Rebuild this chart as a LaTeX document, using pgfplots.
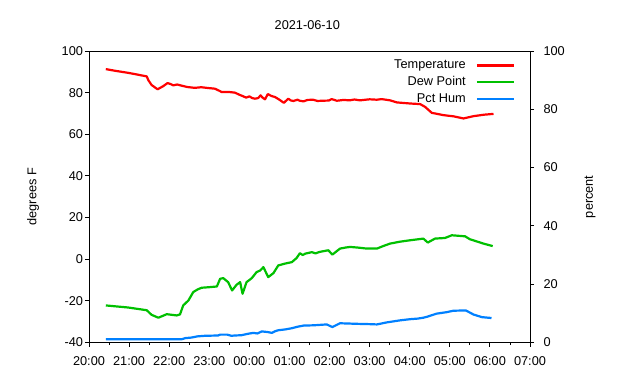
\documentclass[border=0pt]{standalone}
\usepackage{fontspec}
\setmainfont{Liberation Sans}
\usepackage{pgfplots}
\pgfplotsset{compat=1.18}
\definecolor{tred}{HTML}{FF0000}
\definecolor{tgreen}{HTML}{00C000}
\definecolor{tblue}{HTML}{0080FF}
\pgfplotsset{
  common/.style={
    at={(0,0)}, anchor=south west,
    scale only axis, width=441bp, height=291.5bp,
    xmin=0, xmax=11,
    /pgf/number format/assume math mode=true,
    tick align=outside,
    major tick length=4bp, minor tick length=2.5bp,
    every tick/.style={black, line width=0.9bp},
    axis line style={line width=0.9bp},
    every axis plot/.append style={line width=2.2bp, line join=round},
  }
}
\begin{document}
\begin{tikzpicture}[font=\fontsize{12.8}{15.4}\selectfont]
\path[use as bounding box] (-89bp,-37.5bp) rectangle (551bp,342.5bp);
\begin{axis}[common,
  ymin=-40, ymax=100,
  xtick={0,1,...,11},
  xticklabels={20:00,21:00,22:00,23:00,00:00,01:00,02:00,03:00,04:00,05:00,06:00,07:00},
  minor x tick num=1,
  xtick pos=bottom, ytick pos=left,
  ytick={-40,-20,...,100},
  xticklabel style={yshift=-7bp},
  yticklabel style={xshift=1.5bp},
  ylabel={degrees F},
  ylabel style={at={(axis description cs:-0.127,0.5)}, anchor=center},
  title={2021-06-10},
  title style={at={(axis description cs:0.495,1)}, anchor=center, yshift=20bp},
]
\addplot[tred] coordinates {
(0.42,91.3) (0.65,90.5) (0.98,89.5) (1.2,88.7) (1.44,87.8) (1.48,86.0) (1.56,83.7)
(1.71,81.6) (1.85,83.1) (1.96,84.6) (2.05,84.0) (2.1,83.5) (2.2,83.9) (2.3,83.4) (2.45,82.7)
(2.64,82.3) (2.8,82.6) (2.98,82.2) (3.14,81.9) (3.25,80.9) (3.31,80.3) (3.5,80.3) (3.64,80.0)
(3.75,79.0) (3.84,78.3) (3.92,77.6) (4.0,78.2) (4.07,77.4) (4.14,77.1) (4.22,77.4) (4.28,78.7) (4.33,77.6) (4.39,76.8)
(4.46,79.3) (4.55,78.4) (4.64,77.9) (4.75,76.6) (4.86,75.1) (4.97,77.1) (5.04,76.2) (5.1,76.0)
(5.2,76.6) (5.26,76.1) (5.35,75.8) (5.45,76.5) (5.59,76.6) (5.7,76.0) (5.8,76.1) (5.98,76.2) (6.05,76.9)
(6.12,76.5) (6.18,76.1) (6.35,76.5) (6.5,76.3) (6.62,76.7) (6.76,76.3) (6.9,76.6) (7.0,76.8) (7.18,76.6) (7.3,76.9) (7.51,76.3) (7.68,75.3)
(8.0,74.8) (8.26,74.5) (8.38,73.2) (8.55,70.3) (8.84,69.2) (9.1,68.6) (9.34,67.6)
(9.59,68.7) (9.85,69.4) (10.09,69.8)
};
\addplot[tgreen] coordinates {
(0.42,-22.2) (0.98,-23.2) (1.44,-24.5) (1.56,-26.7) (1.73,-28.1) (1.94,-26.4)
(2.19,-27.0) (2.27,-26.5) (2.35,-22.2) (2.48,-19.8) (2.6,-15.8) (2.7,-14.6) (2.81,-13.7)
(3.02,-13.4) (3.19,-13.1) (3.27,-9.4) (3.35,-9.1) (3.47,-11.0) (3.57,-15.0)
(3.68,-12.3) (3.77,-11.0) (3.83,-16.6) (3.93,-11.0) (4.06,-9.1) (4.18,-6.2)
(4.27,-5.4) (4.35,-3.8) (4.47,-8.6) (4.6,-6.7) (4.72,-3.0) (4.89,-2.1)
(5.06,-1.4) (5.18,0.6) (5.26,2.9) (5.33,2.0) (5.4,2.7) (5.56,3.4) (5.65,2.8) (5.75,3.5) (5.97,4.3)
(6.07,2.2) (6.26,5.1) (6.4,5.6) (6.51,5.9) (6.7,5.6) (6.93,5.1) (7.18,5.1) (7.35,6.4)
(7.51,7.5) (7.75,8.4) (8.01,9.1) (8.34,9.9) (8.45,8.0) (8.63,9.9) (8.88,10.2)
(9.05,11.5) (9.38,11.0) (9.5,9.6) (9.84,7.5) (10.07,6.3)
};
\end{axis}
\begin{axis}[common,
  ymin=0, ymax=100,
  axis x line=none, axis y line*=right,
  ytick={0,20,...,100},
  yticklabel style={xshift=6bp},
  ylabel={percent},
  ylabel style={at={(axis description cs:1.136,0.5)}, anchor=center, rotate=0},
  legend plot pos=right,
  legend cell align=right,
  legend image code/.code={\draw[#1] (0bp,0bp) -- (37bp,0bp);},
  legend style={draw=none, fill=none, at={(rel axis cs:1,1)}, anchor=north east,
    xshift=-15bp, yshift=-7.5bp, inner sep=0pt, outer sep=0pt,
    column sep=9bp, row sep=2.5bp,
    nodes={inner sep=1bp, text height=9.2bp, text depth=3bp}},
]
\addlegendimage{tred, line width=2.2bp}
\addlegendentry{Temperature}
\addlegendimage{tgreen, line width=2.2bp}
\addlegendentry{Dew Point}
\addplot[tblue] coordinates {
(0.42,1.1) (1.5,1.1) (2.31,1.1) (2.4,1.5) (2.56,1.7) (2.7,2.1) (2.89,2.3)
(3.22,2.4) (3.27,2.7) (3.45,2.7) (3.55,2.3) (3.64,2.4) (3.8,2.5) (3.97,3.0)
(4.1,3.3) (4.2,3.1) (4.31,3.8) (4.45,3.6) (4.56,3.3) (4.65,3.9) (4.72,4.2)
(4.9,4.5) (5.06,4.9) (5.2,5.4) (5.35,5.8) (5.6,5.9) (5.93,6.2) (6.07,5.3)
(6.26,6.6) (6.7,6.4) (7.0,6.3) (7.18,6.2) (7.43,6.9) (7.76,7.6) (8.01,8.0)
(8.2,8.2) (8.34,8.5) (8.45,8.9) (8.67,9.9) (8.92,10.4) (9.09,10.9) (9.4,11.0)
(9.59,9.6) (9.8,8.7) (10.04,8.4)
};
\addlegendentry{Pct Hum}
\end{axis}
\end{tikzpicture}
\end{document}
